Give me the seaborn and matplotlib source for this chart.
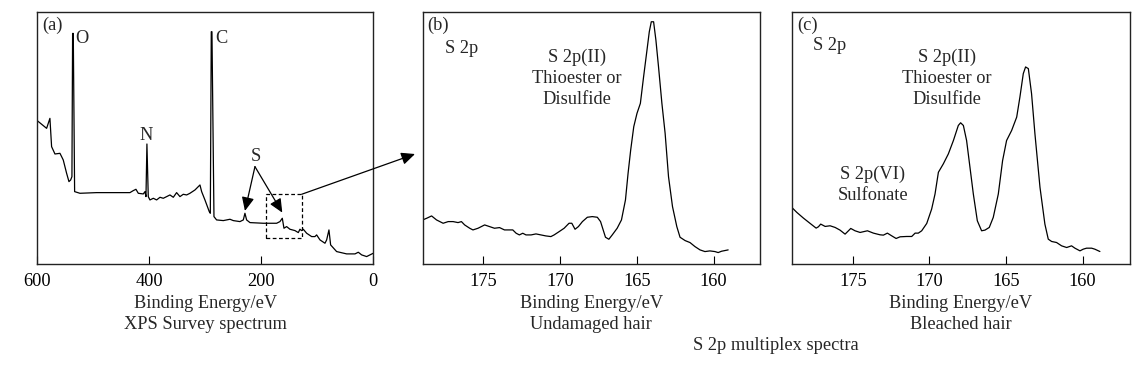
import matplotlib
matplotlib.use("Agg")
import matplotlib.pyplot as plt
import matplotlib.patches as patches
import pandas as pd
import seaborn as sns

# XPS survey spectrum (binding energy in eV, intensity in arbitrary units)
survey_energy = [600.0, 583.3, 577.4, 574.4, 568.4, 559.5, 556.5, 553.6, 547.6, 543.4,
                 540.4, 538.1, 536.9, 535.7, 533.3, 523.8, 494.0, 434.5, 428.6, 423.8,
                 419.6, 410.7, 407.7, 405.9, 404.2, 401.8, 398.8, 392.8, 386.9, 380.9,
                 375.0, 369.0, 363.1, 357.1, 351.2, 345.2, 339.3, 333.3, 327.4, 318.4,
                 309.5, 306.5, 300.6, 292.9, 291.0, 289.3, 288.1, 284.5, 279.8, 267.8,
                 255.9, 250.0, 238.1, 232.1, 229.2, 226.2, 220.2, 196.4, 172.6, 166.7,
                 162.5, 159.5, 154.8, 148.8, 139.9, 133.9, 131.0, 128.0, 125.0, 119.0,
                 110.1, 104.2, 101.2, 95.2, 86.3, 83.3, 79.2, 76.2, 65.5, 47.6,
                 32.7, 26.8, 20.8, 11.9, 6.0, 0.0]
survey_counts = [431, 408, 438, 353, 331, 333, 323, 313, 273, 248,
                 253, 263, 693, 693, 218, 213, 215, 215, 221, 225,
                 213, 211, 218, 203, 361, 203, 193, 198, 193, 201,
                 198, 203, 208, 201, 215, 203, 210, 208, 213, 223,
                 238, 218, 193, 158, 153, 698, 698, 143, 133, 131,
                 135, 131, 128, 133, 153, 133, 125, 123, 123, 128,
                 138, 108, 113, 105, 101, 95, 105, 101, 105, 93,
                 83, 83, 88, 73, 63, 73, 103, 58, 38, 31,
                 31, 36, 28, 23, 28, 33]

# S 2p multiplex, undamaged hair
undamaged_energy = [178.92, 178.66, 178.34, 178.02, 177.59, 177.26, 176.94, 176.62, 176.40, 176.19,
                    175.86, 175.65, 175.32, 174.89, 174.57, 174.25, 173.92, 173.60, 173.28, 173.06,
                    172.84, 172.63, 172.41, 172.20, 171.87, 171.55, 171.23, 170.91, 170.58, 170.37,
                    170.04, 169.72, 169.40, 169.22, 169.01, 168.79, 168.53, 168.21, 167.89, 167.56,
                    167.35, 167.18, 167.03, 166.81, 166.59, 166.27, 165.99, 165.73, 165.56, 165.39,
                    165.19, 164.98, 164.76, 164.55, 164.33, 164.18, 164.05, 163.90, 163.75, 163.58,
                    163.36, 163.15, 162.93, 162.67, 162.39, 162.18, 161.85, 161.53, 161.21, 160.88,
                    160.56, 160.24, 159.91, 159.70, 159.48, 159.05]
undamaged_counts = [133, 138, 145, 133, 123, 128, 128, 125, 128, 118,
                    108, 103, 108, 118, 113, 108, 110, 103, 103, 103,
                    93, 88, 93, 88, 88, 91, 88, 85, 83, 88,
                    98, 108, 123, 123, 105, 113, 128, 141, 143, 141,
                    128, 103, 81, 75, 88, 108, 133, 193, 273, 343,
                    413, 453, 483, 563, 643, 698, 728, 728, 673, 593,
                    483, 393, 263, 173, 113, 81, 71, 65, 53, 43,
                    38, 40, 38, 35, 39, 43]

# S 2p multiplex, bleached hair
bleached_energy = [178.98, 178.65, 178.22, 177.78, 177.39, 177.24, 177.09, 176.80, 176.48, 176.15,
                   175.83, 175.50, 175.28, 175.13, 174.85, 174.52, 174.04, 173.65, 173.22, 173.00,
                   172.74, 172.46, 172.17, 171.91, 171.48, 171.15, 170.93, 170.72, 170.50, 170.17,
                   169.85, 169.63, 169.41, 169.09, 168.76, 168.43, 168.11, 167.96, 167.78, 167.57,
                   167.35, 167.13, 166.87, 166.59, 166.37, 166.09, 165.83, 165.50, 165.22, 164.96,
                   164.63, 164.30, 164.09, 163.87, 163.72, 163.54, 163.33, 163.11, 162.78, 162.46,
                   162.24, 162.02, 161.70, 161.37, 161.04, 160.72, 160.50, 160.17, 159.96, 159.74,
                   159.41, 159.20, 158.87]
bleached_counts = [170, 155, 138, 122, 108, 112, 120, 113, 115, 110,
                   102, 90, 100, 107, 100, 95, 100, 93, 88, 87,
                   93, 85, 77, 82, 83, 83, 93, 93, 100, 122,
                   165, 210, 275, 300, 330, 370, 415, 423, 415, 370,
                   290, 210, 130, 100, 102, 110, 140, 210, 310, 370,
                   400, 440, 500, 570, 590, 585, 510, 390, 230, 120,
                   75, 68, 65, 55, 50, 55, 48, 40, 45, 48,
                   48, 45, 38]

survey_ticks = [600, 400, 200, 0]
multiplex_ticks = [175, 170, 165, 160]

sns.set_theme(style="white")
plt.rcParams['font.family'] = 'serif'
plt.rcParams['font.serif'] = ['Liberation Serif', 'DejaVu Serif']
FS = 13.2
LS = 1.3

fig = plt.figure(figsize=(11.43, 3.68), dpi=100)
ax_a = fig.add_axes([0.0326, 0.282, 0.294, 0.686])
ax_b = fig.add_axes([0.3698, 0.282, 0.2951, 0.686])
ax_c = fig.add_axes([0.6927, 0.282, 0.2960, 0.686])


def style_axes(ax, xlim, ylim, ticks, label):
    ax.set_xlim(*xlim)
    ax.set_ylim(*ylim)
    ax.set_xticks(ticks)
    ax.set_xticklabels([str(t) for t in ticks], fontsize=FS)
    ax.set_yticks([])
    ax.set_ylabel("")
    ax.tick_params(axis='x', direction='in', length=6, width=0.8, pad=6.5,
                   colors='black', bottom=True)
    for sp in ax.spines.values():
        sp.set_color('#222222')
        sp.set_linewidth(1.0)
    ax.set_xlabel(label, fontsize=FS, labelpad=3.5, linespacing=LS)


def spectrum(ax, x, y):
    df = pd.DataFrame({'energy': x, 'counts': y})
    sns.lineplot(data=df, x='energy', y='counts', ax=ax, color='black',
                 lw=0.9, sort=False, estimator=None)


spectrum(ax_a, survey_energy, survey_counts)
spectrum(ax_b, undamaged_energy, undamaged_counts)
spectrum(ax_c, bleached_energy, bleached_counts)

style_axes(ax_a, (600, 0), (0, 758), survey_ticks,
           "Binding Energy/eV\nXPS Survey spectrum")
style_axes(ax_b, (178.92, 156.98), (0, 758), multiplex_ticks,
           "Binding Energy/eV\nUndamaged hair")
style_axes(ax_c, (178.98, 156.9), (0, 755), multiplex_ticks,
           "Binding Energy/eV\nBleached hair")

# panel (a) annotations
ax_a.text(590.5, 718, "(a)", fontsize=FS, ha='left', va='center')
ax_a.text(519.6, 678, "O", fontsize=FS, ha='center', va='center')
ax_a.text(406.5, 388, "N", fontsize=FS, ha='center', va='center')
ax_a.text(270.8, 678, "C", fontsize=FS, ha='center', va='center')
ax_a.text(210.1, 323, "S", fontsize=FS, ha='center', va='center')
arrow_kw = dict(arrowstyle='-|>,head_length=0.55,head_width=0.25', color='black',
                lw=0.9, mutation_scale=15, shrinkA=0, shrinkB=0)
ax_a.annotate("", xy=(229.2, 160), xytext=(211.3, 293), arrowprops=arrow_kw)
ax_a.annotate("", xy=(162.5, 155), xytext=(211.3, 293), arrowprops=arrow_kw)
ax_a.add_patch(patches.Rectangle((192.3, 78), 128.0 - 192.3, 210 - 78, fill=False,
                                 ec='black', lw=0.9, ls=(0, (3, 2))))
ax_a.annotate("", xy=(415 / 1143, 1 - 154 / 368), xycoords='figure fraction',
              xytext=(128.0, 210), textcoords='data', arrowprops=arrow_kw,
              annotation_clip=False)

# panel (b) annotations
ax_b.text(0.013, 0.947, "(b)", transform=ax_b.transAxes, fontsize=FS, ha='left', va='center')
ax_b.text(0.066, 0.856, "S 2p", transform=ax_b.transAxes, fontsize=FS, ha='left', va='center')
ax_b.text(0.458, 0.737, "S 2p(II)\nThioester or\nDisulfide", transform=ax_b.transAxes,
          fontsize=FS, ha='center', va='center', multialignment='center', linespacing=LS)

# panel (c) annotations
ax_c.text(0.016, 0.947, "(c)", transform=ax_c.transAxes, fontsize=FS, ha='left', va='center')
ax_c.text(0.063, 0.868, "S 2p", transform=ax_c.transAxes, fontsize=FS, ha='left', va='center')
ax_c.text(0.459, 0.737, "S 2p(II)\nThioester or\nDisulfide", transform=ax_c.transAxes,
          fontsize=FS, ha='center', va='center', multialignment='center', linespacing=LS)
ax_c.text(0.240, 0.314, "S 2p(VI)\nSulfonate", transform=ax_c.transAxes,
          fontsize=FS, ha='center', va='center', multialignment='center', linespacing=LS)

fig.text(0.679, 0.0625, "S 2p multiplex spectra", fontsize=FS, ha='center', va='center')

fig.savefig("out.png", dpi=100)
